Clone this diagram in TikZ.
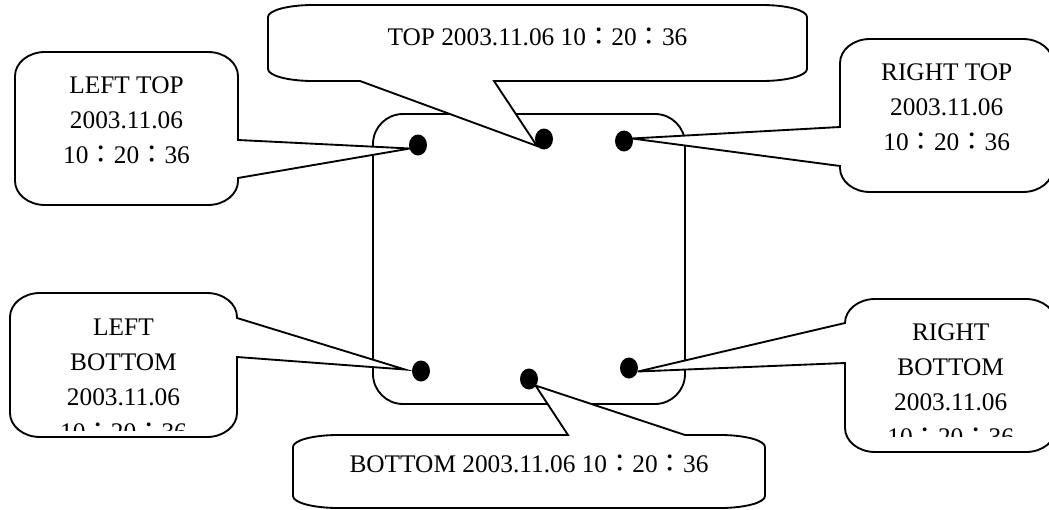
\documentclass[tikz,border=0pt]{standalone}
\usepackage{fontspec}
\setmainfont{Liberation Serif}
\newfontfamily\cjk{Noto Sans CJK TC}
\usetikzlibrary{shapes.geometric}
\tikzset{balloon/.style = {draw, fill=white, line width=1.4pt}}
\tikzset{dot/.style = {ellipse, fill=black, inner sep=0pt,
                       minimum width=13.5pt, minimum height=15.75pt}}
\tikzset{stamp/.style = {align=center, inner sep=0pt,
                         font=\fontsize{19}{26.25}\selectfont}}
\tikzset{bigcorner/.style = {x radius=33.75pt, y radius=9pt}}
\tikzset{sidecorner/.style = {x radius=22.5pt, y radius=18pt}}
\newcommand{\fcolon}{{\cjk ：}}

\begin{document}
\begin{tikzpicture}[x=0.75pt, y=-0.75pt]
    \useasboundingbox (0, 0) rectangle (1049, 510);

    \coordinate (toptip) at (537, 146);
    \coordinate (bottip) at (535.5, 385.5);
    \coordinate (lttip) at (410, 148.5);
    \coordinate (rttip) at (632, 138.5);
    \coordinate (lbtip) at (405, 369.5);
    \coordinate (rbtip) at (638, 371.5);

    \draw [line width=1.4pt, rounded corners=22.5pt] (373, 114) rectangle (685, 404);

    \draw [balloon] (313, 5) -- (762, 5) arc [start angle=90, end angle=0, bigcorner]
      -- (807, 69) arc [start angle=0, end angle=-90, bigcorner]
      -- (494, 81) -- (toptip) -- (360, 81)
      -- (313, 81) arc [start angle=270, end angle=180, bigcorner]
      -- (268, 17) arc [start angle=180, end angle=90, bigcorner] -- cycle;

    \draw [balloon] (338, 435) -- (568, 435) -- (bottip) -- (685, 435)
      -- (720, 435) arc [start angle=90, end angle=0, bigcorner]
      -- (765, 496) arc [start angle=0, end angle=-90, bigcorner]
      -- (338, 508) arc [start angle=270, end angle=180, bigcorner]
      -- (293, 447) arc [start angle=180, end angle=90, bigcorner] -- cycle;

    \draw [balloon] (45, 52) -- (208, 52) arc [start angle=90, end angle=0, sidecorner]
      -- (238, 140) -- (lttip) -- (238, 178)
      -- (238, 181) arc [start angle=0, end angle=-90, sidecorner]
      -- (45, 205) arc [start angle=270, end angle=180, sidecorner]
      -- (15, 76) arc [start angle=180, end angle=90, sidecorner] -- cycle;

    \draw [balloon] (870, 39) -- (1023, 39) arc [start angle=90, end angle=0, sidecorner]
      -- (1053, 168) arc [start angle=0, end angle=-90, sidecorner]
      -- (870, 192) arc [start angle=270, end angle=180, sidecorner]
      -- (840, 166) -- (rttip) -- (840, 127)
      -- (840, 63) arc [start angle=180, end angle=90, sidecorner] -- cycle;

    \draw [balloon] (40, 293) -- (207, 293) arc [start angle=90, end angle=0, sidecorner]
      -- (237, 318) -- (lbtip) -- (237, 357)
      -- (237, 413) arc [start angle=0, end angle=-90, sidecorner]
      -- (40, 437) arc [start angle=270, end angle=180, sidecorner]
      -- (10, 317) arc [start angle=180, end angle=90, sidecorner] -- cycle;

    \draw [balloon] (875, 299) -- (1026, 299) arc [start angle=90, end angle=0, sidecorner]
      -- (1056, 428) arc [start angle=0, end angle=-90, sidecorner]
      -- (875, 452) arc [start angle=270, end angle=180, sidecorner]
      -- (845, 363) -- (rbtip) -- (845, 323) arc [start angle=180, end angle=90, sidecorner]
      -- cycle;

    \node [stamp] (toptext) at (537.5, 37) {TOP 2003.11.06 10\fcolon 20\fcolon 36};
    \node [stamp] (bottext) at (529, 464) {BOTTOM 2003.11.06 10\fcolon 20\fcolon 36};
    \node [stamp] (lttext) at (126.5, 120) {LEFT TOP\\2003.11.06\\10\fcolon 20\fcolon 36};
    \node [stamp] (rttext) at (946.7, 107) {RIGHT TOP\\2003.11.06\\10\fcolon 20\fcolon 36};
    \begin{scope}
      \clip (10, 293) rectangle (237, 430.7);
      \node [stamp] (lbtext) at (123.5, 379.5) {LEFT\\BOTTOM\\2003.11.06\\10\fcolon 20\fcolon 36};
    \end{scope}
    \begin{scope}
      \clip (845, 299) rectangle (1056, 436.7);
      \node [stamp] (rbtext) at (950.7, 385) {RIGHT\\BOTTOM\\2003.11.06\\10\fcolon 20\fcolon 36};
    \end{scope}

    \foreach \n/\x/\y in {lt/418/145, top/544/139, rt/624/141, lb/421/371, bot/529/379, rb/629/368}
      \node [dot] (\n) at (\x, \y) {};
\end{tikzpicture}
\end{document}
